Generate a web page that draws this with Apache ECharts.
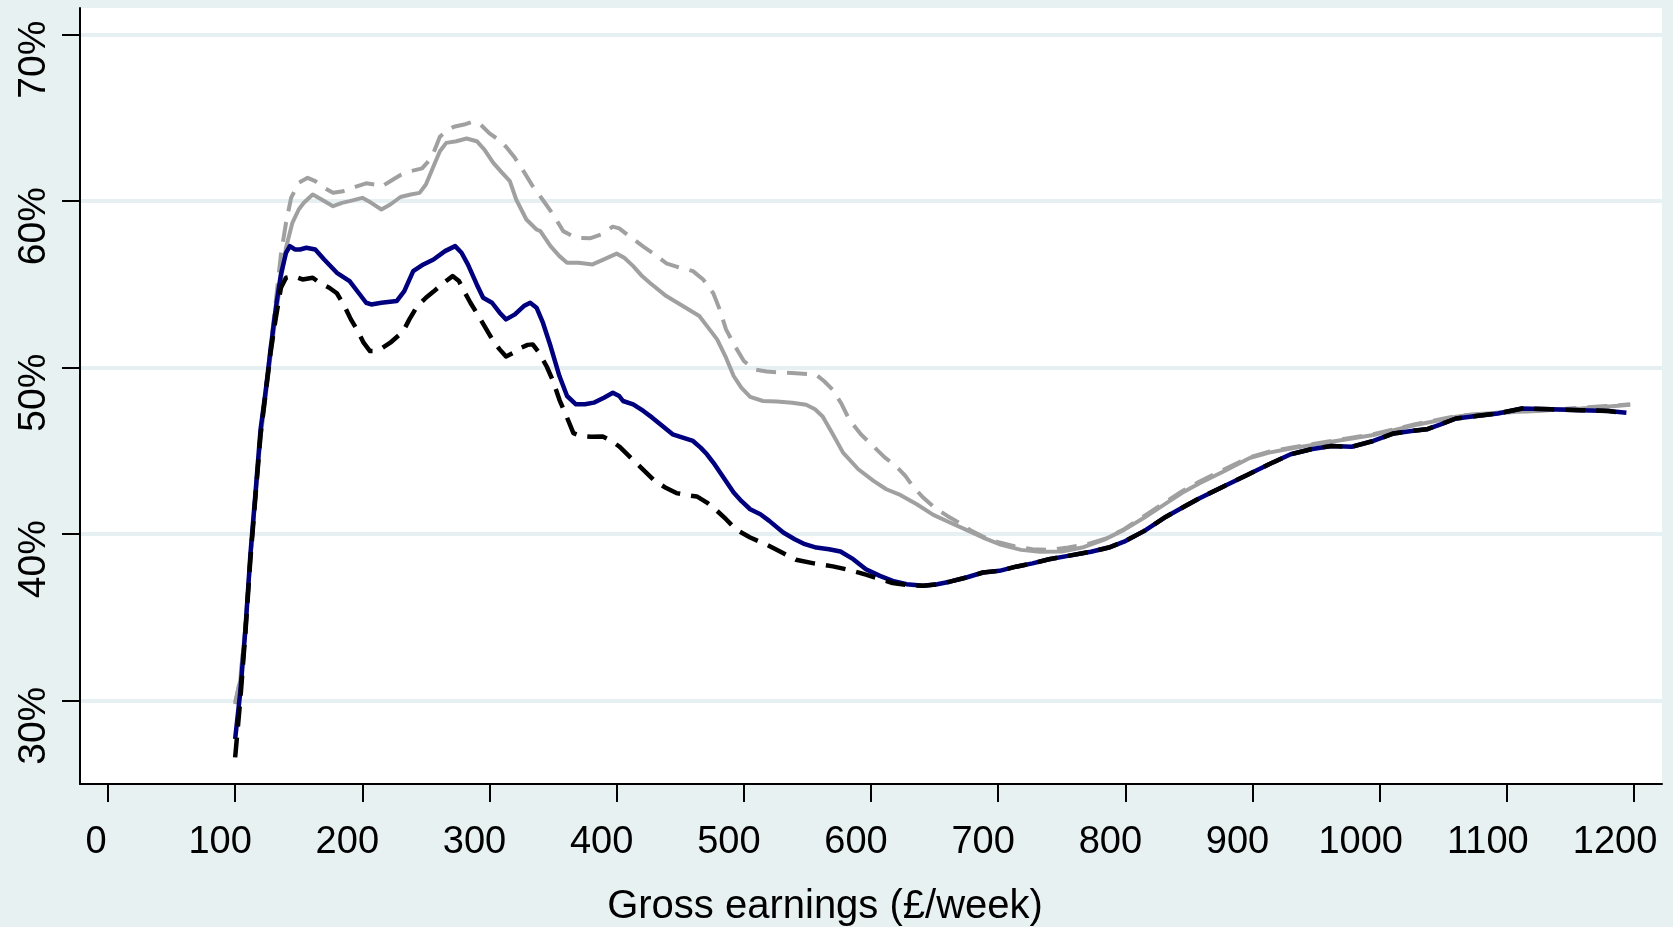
<!DOCTYPE html>
<html>
<head>
<meta charset="utf-8">
<script src="https://cdn.jsdelivr.net/npm/echarts@6/dist/echarts.min.js"></script>
<style>
html,body{margin:0;padding:0;background:#E8F1F2;}
#chart{width:1673px;height:927px;}
</style>
</head>
<body>
<div id="chart"></div>
<script>
// Tick values
const xTicks = [0, 100, 200, 300, 400, 500, 600, 700, 800, 900, 1000, 1100, 1200];
const yTicks = [30, 40, 50, 60, 70];

// Series values: [gross earnings (£/week), rate (%)]
const greyDashed = [[100,29.8],[104,31.3],[108,34.4],[112,38.6],[116,42.4],[120,46.0],[124,48.6],[128,51.3],[132,54.0],[136,56.8],[140,58.7],[144,60.2],[150,61.1],[157,61.4],[163,61.2],[170,60.8],[177,60.5],[185,60.6],[195,60.87],[203,61.07],[210,61.0],[215,60.87],[222,61.2],[230,61.57],[238,61.8],[247,61.97],[252,62.4],[256,62.9],[261,63.87],[266,64.2],[272,64.47],[280,64.6],[287,64.77],[293,64.6],[300,64.07],[307,63.7],[313,63.27],[320,62.6],[327,61.77],[334,60.9],[342,60.07],[350,59.2],[358,58.2],[368,57.8],[379,57.77],[388,58.0],[397,58.47],[402,58.37],[410,57.9],[421,57.27],[430,56.8],[439,56.27],[450,56.0],[460,55.8],[468,55.3],[476,54.47],[481,53.5],[486,52.3],[493,51.3],[500,50.4],[508,49.9],[518,49.77],[530,49.7],[541,49.67],[557,49.57],[563,49.2],[570,48.67],[577,47.8],[583,46.87],[592,46.0],[602,45.27],[611,44.6],[620,44.07],[627,43.5],[633,42.87],[641,42.2],[649,41.66],[660,41.1],[670,40.66],[679,40.2],[688,39.86],[701,39.5],[714,39.26],[727,39.1],[740,39.06],[755,39.2],[770,39.4],[785,39.75],[799,40.3],[815,41.1],[832,41.95],[845,42.6],[858,43.15],[878,43.9],[897,44.6],[913,44.95],[930,45.2],[946,45.4],[962,45.6],[978,45.8],[995,46.0],[1011,46.3],[1028,46.6],[1044,46.85],[1060,47.1],[1076,47.2],[1093,47.3],[1109,47.35],[1125,47.45],[1142,47.5],[1158,47.6],[1178,47.7],[1197,47.8]];

const greySolid = [[100,29.9],[104,31.2],[108,34.3],[112,38.5],[116,42.2],[120,45.8],[124,48.3],[128,50.8],[132,53.2],[136,55.3],[140,57.2],[145,58.7],[150,59.5],[154,59.9],[161,60.4],[168,60.1],[177,59.7],[184,59.9],[190,60.0],[200,60.2],[207,59.9],[215,59.5],[222,59.8],[230,60.25],[238,60.4],[245,60.5],[250,61.0],[256,62.1],[261,63.0],[266,63.5],[274,63.6],[282,63.76],[290,63.6],[296,63.1],[303,62.3],[310,61.7],[316,61.2],[321,60.1],[329,58.9],[337,58.3],[340,58.2],[348,57.3],[355,56.7],[361,56.3],[370,56.3],[381,56.2],[390,56.5],[400,56.85],[406,56.6],[413,56.1],[420,55.5],[426,55.1],[439,54.3],[452,53.7],[465,53.1],[473,52.3],[479,51.7],[486,50.6],[492,49.5],[498,48.8],[505,48.25],[515,48.0],[526,47.97],[538,47.9],[549,47.77],[556,47.5],[562,47.07],[570,46.0],[578,44.9],[590,43.9],[602,43.2],[612,42.7],[623,42.36],[636,41.8],[649,41.16],[662,40.7],[675,40.26],[688,39.8],[701,39.4],[718,39.06],[733,38.95],[750,38.96],[766,39.2],[783,39.66],[799,40.26],[815,41.0],[832,41.85],[845,42.5],[858,43.05],[878,43.8],[897,44.55],[913,44.9],[930,45.15],[946,45.35],[962,45.55],[978,45.75],[995,45.96],[1011,46.25],[1028,46.56],[1044,46.8],[1060,47.06],[1076,47.2],[1093,47.3],[1109,47.35],[1125,47.4],[1142,47.5],[1158,47.55],[1178,47.65],[1197,47.77]];

const navySolid = [[100,27.7],[104,30.5],[108,34.2],[112,38.8],[116,42.5],[120,46.3],[124,48.6],[128,51.2],[132,53.6],[136,55.6],[140,56.9],[143,57.3],[147,57.1],[151,57.1],[156,57.2],[163,57.1],[170,56.5],[180,55.7],[190,55.2],[197,54.5],[203,53.9],[207,53.8],[215,53.9],[227,54.0],[233,54.6],[240,55.8],[248,56.2],[256,56.5],[265,57.0],[273,57.3],[278,56.9],[283,56.2],[290,55.0],[295,54.2],[302,53.9],[308,53.3],[313,52.9],[320,53.2],[327,53.7],[332,53.9],[337,53.6],[342,52.7],[348,51.3],[355,49.5],[361,48.3],[368,47.8],[375,47.8],[382,47.9],[390,48.2],[397,48.5],[402,48.3],[405,48.0],[413,47.8],[421,47.4],[428,47.0],[436,46.5],[444,46.0],[452,45.8],[460,45.6],[466,45.2],[471,44.8],[476,44.3],[484,43.4],[492,42.5],[498,42.0],[505,41.5],[513,41.2],[520,40.8],[531,40.1],[540,39.7],[548,39.4],[557,39.2],[567,39.1],[576,38.96],[586,38.5],[596,37.9],[607,37.5],[617,37.2],[628,37.0],[641,36.9],[652,37.0],[662,37.15],[675,37.4],[688,37.7],[701,37.8],[714,38.05],[727,38.25],[740,38.5],[755,38.7],[773,38.95],[787,39.2],[799,39.55],[815,40.2],[832,41.05],[845,41.6],[858,42.15],[878,42.9],[897,43.6],[913,44.2],[930,44.8],[946,45.1],[962,45.3],[978,45.25],[995,45.6],[1011,46.05],[1025,46.2],[1037,46.3],[1048,46.6],[1060,46.95],[1076,47.1],[1093,47.25],[1112,47.55],[1135,47.5],[1158,47.45],[1180,47.4],[1194,47.3]];

const blackDashed = [[100,26.6],[104,30.0],[108,34.0],[112,38.5],[116,42.3],[120,46.0],[124,48.5],[128,51.0],[132,53.0],[136,54.8],[140,55.4],[146,55.5],[153,55.3],[161,55.4],[167,55.07],[174,54.8],[180,54.47],[186,53.7],[191,52.9],[196,52.27],[201,51.5],[206,51.0],[211,51.0],[216,51.2],[222,51.5],[232,52.17],[237,52.9],[243,53.67],[250,54.2],[256,54.57],[264,55.1],[271,55.5],[276,55.2],[280,54.6],[285,53.9],[293,52.9],[303,51.6],[308,51.1],[313,50.67],[319,50.9],[324,51.17],[330,51.37],[334,51.4],[339,50.9],[345,50.07],[350,49.2],[355,48.07],[361,47.0],[366,46.07],[372,45.9],[380,45.85],[389,45.87],[396,45.6],[402,45.27],[411,44.6],[421,43.87],[430,43.2],[439,42.77],[447,42.47],[455,42.35],[463,42.27],[471,41.9],[478,41.47],[486,40.9],[494,40.27],[505,39.8],[518,39.37],[530,38.9],[541,38.47],[555,38.25],[570,38.07],[583,37.85],[596,37.57],[607,37.3],[617,37.07],[628,36.95],[641,36.9],[652,36.98],[662,37.15],[675,37.4],[688,37.7],[701,37.8],[714,38.05],[727,38.25],[740,38.5],[755,38.7],[773,38.95],[787,39.2],[799,39.55],[815,40.2],[832,41.05],[845,41.6],[858,42.15],[878,42.9],[897,43.6],[913,44.2],[930,44.8],[946,45.1],[962,45.3],[978,45.25],[995,45.6],[1011,46.05],[1025,46.2],[1037,46.3],[1048,46.6],[1060,46.95],[1076,47.1],[1093,47.25],[1112,47.55],[1135,47.5],[1158,47.45],[1180,47.4],[1193,47.25]];

const FONT = '"Liberation Sans", Arial, Helvetica, sans-serif';
const BG = '#E8F1F2';
const GRID = '#E6EFF1';

const chart = echarts.init(document.getElementById('chart'), null, {renderer: 'canvas'});

function lineSeries(data, color, width, type) {
  return {
    type: 'line',
    data: data,
    showSymbol: false,
    symbol: 'none',
    smooth: false,
    animation: false,
    lineStyle: {color: color, width: width, type: type, cap: 'butt', join: 'round'},
    emphasis: {disabled: true},
    z: 3
  };
}

chart.setOption({
  backgroundColor: BG,
  animation: false,
  grid: {
    left: 80, right: 11, top: 8, bottom: 143,
    containLabel: false, outerBoundsMode: 'none',
    show: true, backgroundColor: '#FFFFFF', borderWidth: 0
  },
  xAxis: {
    type: 'value',
    min: -22, max: 1222,
    axisLine: {show: true, onZero: false, lineStyle: {color: '#000', width: 2}},
    axisTick: {show: true, customValues: xTicks, length: 18, lineStyle: {color: '#000', width: 2}},
    axisLabel: {
      show: true, customValues: xTicks, margin: 40, color: '#000',
      fontFamily: FONT, fontSize: 38,
      formatter: function (v) { return '{d' + String(v).length + '|' + v + '}'; },
      rich: {
        d1: {fontFamily: FONT, fontSize: 38, color: '#000', padding: [0, 24, 0, 0]},
        d3: {fontFamily: FONT, fontSize: 38, color: '#000', padding: [0, 30, 0, 0]},
        d4: {fontFamily: FONT, fontSize: 38, color: '#000', padding: [0, 38, 0, 0]}
      }
    },
    splitLine: {show: false},
    name: 'Gross earnings (£/week)',
    nameLocation: 'middle',
    nameGap: 103,
    nameTextStyle: {fontFamily: FONT, fontSize: 40, color: '#000', padding: [0, 92, 0, 0]}
  },
  yAxis: {
    type: 'value',
    min: 25, max: 71.6,
    axisLine: {show: true, onZero: false, lineStyle: {color: '#000', width: 2}},
    axisTick: {show: true, customValues: yTicks, length: 18, lineStyle: {color: '#000', width: 2}},
    axisLabel: {
      show: true, customValues: yTicks, rotate: 90, margin: 26,
      fontFamily: FONT, fontSize: 39, color: '#000',
      padding: [0, 50, 0, 0],
      formatter: function (v) { return v + '%'; }
    },
    splitLine: {show: true, lineStyle: {color: GRID, width: 4}}
  },
  series: [
    lineSeries(greyDashed, '#A0A0A0', 4, [20, 11]),
    lineSeries(greySolid, '#A0A0A0', 4, 'solid'),
    lineSeries(navySolid, '#00007F', 4.5, 'solid'),
    lineSeries(blackDashed, '#000000', 4.5, [20, 11])
  ]
});
</script>
</body>
</html>
